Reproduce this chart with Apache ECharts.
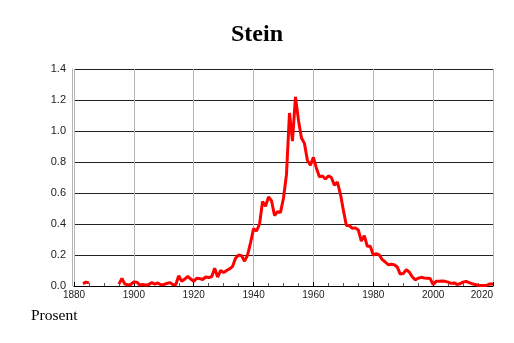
<!DOCTYPE html>
<html>
<head>
<meta charset="utf-8">
<script src="https://cdn.jsdelivr.net/npm/echarts@6/dist/echarts.min.js"></script>
<style>
  html, body { margin: 0; padding: 0; background: #fff; }
  #chart { width: 514px; height: 343px; }
</style>
</head>
<body>
<div id="chart"></div>
<script>
// tittel og akse
var chartTitle = "Stein";
var yTitle = "Prosent";
var yTicks = [0, 0.2, 0.4, 0.6, 0.8, 1.0, 1.2, 1.4];
var xTicks = [1880, 1900, 1920, 1940, 1960, 1980, 2000, 2020];

// år 1883-2020, null = ingen data
var firstYear = 1883;
var values = [
  0.015, 0.025, 0.02,                                              // 1883-1885
  null, null, null, null, null, null, null, null, null,            // 1886-1894
  0.012, 0.048, 0.012, 0.008, 0.01,                                // 1895-1899
  0.026, 0.025, 0.006, 0.01, 0.005, 0.01, 0.022, 0.012, 0.02, 0.008, // 1900-1909
  0.01, 0.016, 0.022, 0.01, 0.008, 0.066, 0.03, 0.045, 0.062, 0.045, // 1910-1919
  0.03, 0.05, 0.048, 0.042, 0.058, 0.055, 0.06, 0.115, 0.058, 0.1,   // 1920-1929
  0.087, 0.1, 0.11, 0.127, 0.18, 0.2, 0.195, 0.16, 0.2, 0.28,        // 1930-1939
  0.37, 0.355, 0.4, 0.545, 0.515, 0.575, 0.55, 0.455, 0.48, 0.475,   // 1940-1949
  0.568, 0.72, 1.116, 0.935, 1.22, 1.07, 0.955, 0.92, 0.81, 0.78,    // 1950-1959
  0.83, 0.76, 0.705, 0.71, 0.69, 0.71, 0.70, 0.65, 0.67, 0.595,      // 1960-1969
  0.49, 0.39, 0.39, 0.372, 0.375, 0.362, 0.29, 0.325, 0.256, 0.256, // 1970-1979
  0.2, 0.208, 0.2, 0.17, 0.155, 0.137, 0.14, 0.137, 0.123, 0.077,    // 1980-1989
  0.08, 0.105, 0.09, 0.06, 0.04, 0.05, 0.056, 0.052, 0.05, 0.048,    // 1990-1999
  0.01, 0.03, 0.03, 0.032, 0.03, 0.025, 0.017, 0.02, 0.01, 0.015,    // 2000-2009
  0.025, 0.03, 0.022, 0.015, 0.01, 0.005, 0.003, 0.003, 0.005, 0.013, // 2010-2019
  0.013                                                            // 2020
];

var years = [];
for (var i = 0; i < values.length; i++) years.push(firstYear + i);

var seriesData = years.map(function (y, i) {
  return [y, values[i] === null ? '-' : values[i]];
});

var myChart = echarts.init(document.getElementById('chart'), null, { renderer: 'canvas' });

var option = {
  animation: false,
  backgroundColor: '#fff',
  title: {
    text: chartTitle,
    left: 'center',
    top: 18,
    textStyle: {
      fontFamily: 'Liberation Serif',
      fontWeight: 'bold',
      fontSize: 24,
      color: '#000'
    }
  },
  graphic: [{
    type: 'text',
    left: 31,
    top: 308,
    style: {
      text: yTitle,
      font: '15.5px "Liberation Serif"',
      fill: '#000'
    }
  }],
  grid: { left: 74, right: 21, top: 69, bottom: 57, containLabel: false },
  xAxis: {
    type: 'value',
    min: xTicks[0],
    max: xTicks[xTicks.length - 1],
    interval: 20,
    axisLine: { show: true, lineStyle: { color: '#000', width: 1 } },
    axisTick: { show: true, inside: true, length: 4, lineStyle: { color: '#000' } },
    minorTick: { show: true, splitNumber: 4, length: 3, lineStyle: { color: '#555' } },
    splitLine: { show: true, lineStyle: { color: '#b4b4b4', width: 1 } },
    axisLabel: {
      fontFamily: 'Liberation Sans',
      fontSize: 10,
      color: '#222',
      margin: 4,
      alignMaxLabel: 'right',
      formatter: function (v) { return String(v); }
    }
  },
  yAxis: {
    type: 'value',
    min: yTicks[0],
    max: yTicks[yTicks.length - 1],
    interval: 0.2,
    offset: 2,
    axisLine: { show: true, onZero: false, lineStyle: { color: '#b4b4b4' } },
    axisTick: { show: false },
    splitLine: { show: true, lineStyle: { color: '#222', width: 1 } },
    axisLabel: {
      fontFamily: 'Liberation Sans',
      fontSize: 11,
      color: '#222',
      margin: 6,
      formatter: function (v) { return v.toFixed(1); }
    }
  },
  series: [{
    type: 'line',
    data: seriesData,
    showSymbol: false,
    connectNulls: false,
    lineStyle: { color: '#ff0000', width: 3 },
    silent: true
  }]
};

myChart.setOption(option);
</script>
</body>
</html>
